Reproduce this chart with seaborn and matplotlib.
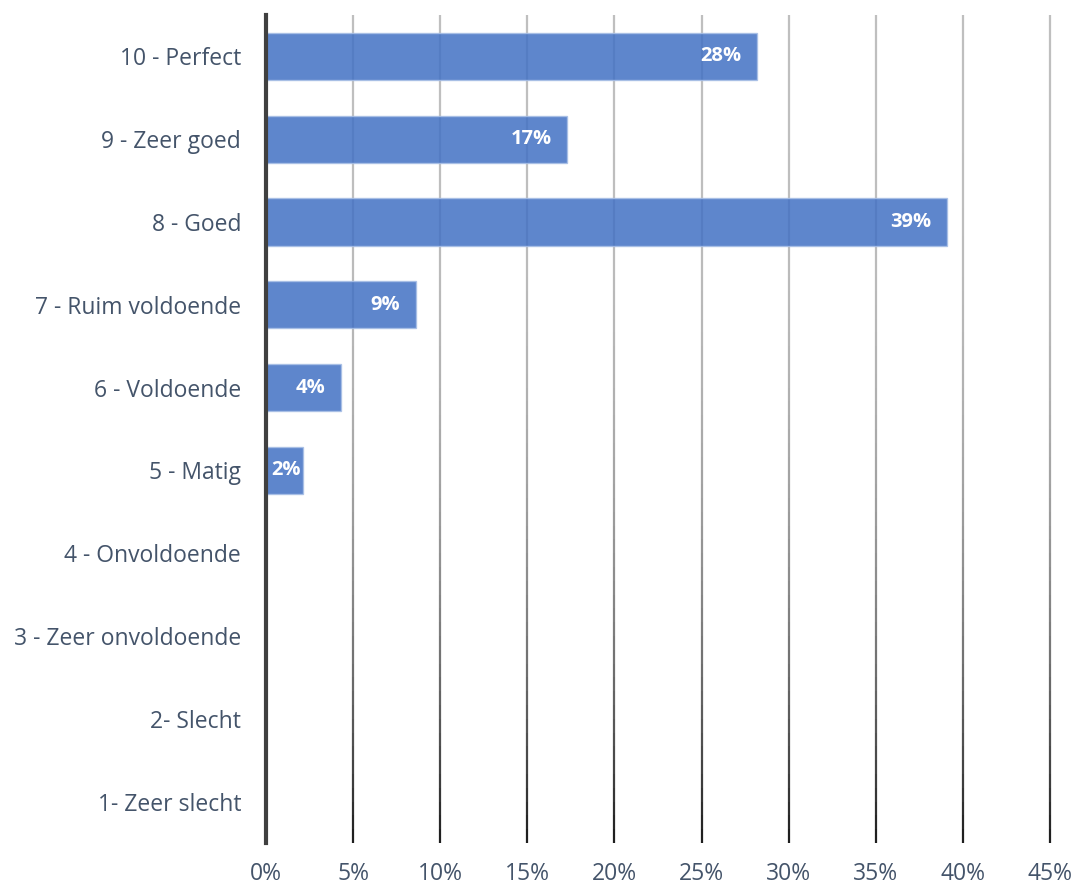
import matplotlib
matplotlib.use("Agg")
import matplotlib.pyplot as plt
import seaborn as sns
import numpy as np
import pandas as pd
from matplotlib.collections import LineCollection

categories = ["10 - Perfect", "9 - Zeer goed", "8 - Goed", "7 - Ruim voldoende",
              "6 - Voldoende", "5 - Matig", "4 - Onvoldoende", "3 - Zeer onvoldoende",
              "2- Slecht", "1- Zeer slecht"]
values = [28.2, 17.3, 39.1, 8.6, 4.3, 2.1, 0, 0, 0, 0]
labels = ["28%", "17%", "39%", "9%", "4%", "2%", "", "", "", ""]
xticks = [0, 5, 10, 15, 20, 25, 30, 35, 40, 45]

df = pd.DataFrame({"cat": categories, "val": values})

sns.set_style("white")
plt.rcParams['font.family'] = ['Open Sans', 'DejaVu Sans']

fig = plt.figure(figsize=(10.75, 8.88), dpi=100)
ax = fig.add_axes([266/1075, 1-843/888, (1050-266)/1075, (843-15)/888])

sns.barplot(data=df, x="val", y="cat", orient="h", ax=ax, color="#4472C4",
            saturation=1, width=0.57, alpha=0.86, edgecolor="#a8bfe6",
            linewidth=1, zorder=3)

ax.set_xlim(0, 45)
ax.set_ylim(len(categories) - 0.5, -0.5)
ax.set_xticks(xticks)
ax.set_xticklabels([f"{t}%" for t in xticks])
ax.set_xlabel("")
ax.set_ylabel("")

# gradient gridlines (light gray at top to dark at bottom)
n = 60
ys = np.linspace(-0.5, len(categories) - 0.5, n + 1)
for xv in xticks[1:]:
    segs = [[(xv, ys[i]), (xv, ys[i + 1])] for i in range(n)]
    t = np.linspace(0, 1, n) ** 3
    cols = [(0.75 - 0.63 * tt, 0.75 - 0.63 * tt, 0.75 - 0.63 * tt) for tt in t]
    lc = LineCollection(segs, colors=cols, linewidths=1.6, zorder=1, clip_on=False)
    ax.add_collection(lc)

for s in ["top", "right", "bottom"]:
    ax.spines[s].set_visible(False)
ax.spines["left"].set_color("#404040")
ax.spines["left"].set_linewidth(3)
ax.spines["left"].set_zorder(5)

ax.tick_params(axis="x", length=0, pad=14, labelsize=16.5, labelcolor="#44546A")
ax.tick_params(axis="y", length=0, pad=18, labelsize=16.5, labelcolor="#44546A")

for bar, lab in zip(ax.patches, labels):
    if lab:
        w = bar.get_width()
        yc = bar.get_y() + bar.get_height() / 2
        if w < 3:
            ax.text(0.3, yc, lab, ha="left", va="center", color="white",
                    fontsize=14.5, fontweight="bold", zorder=6)
        else:
            ax.text(w - 0.9, yc, lab, ha="right", va="center", color="white",
                    fontsize=14.5, fontweight="bold", zorder=6)

fig.savefig("out.png", dpi=100)
